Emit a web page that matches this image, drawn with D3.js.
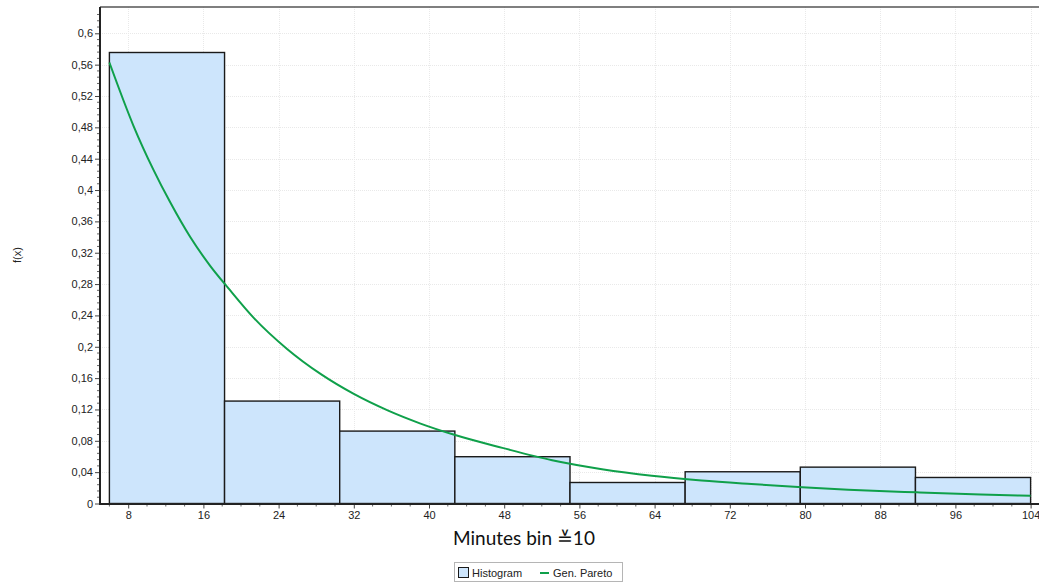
<!DOCTYPE html>
<html>
<head>
<meta charset="utf-8">
<script src="https://cdn.jsdelivr.net/npm/d3@7"></script>
<style>
  body { margin: 0; background: #fff; }
  svg { display: block; }
</style>
</head>
<body>
<svg id="chart" width="1039" height="583"></svg>
<script>
// Histogram bin edges (minutes) and relative frequencies per bin
const binEdges = [6, 18.25, 30.5, 42.75, 55, 67.25, 79.5, 91.75, 104];
const binHeights = [0.5755, 0.1307, 0.0924, 0.0597, 0.0268, 0.0405, 0.0464, 0.0332];

// Fitted Generalized Pareto density, sampled along x
const curveX = [6, 8.56, 10.69, 12.47, 14.6, 16.72, 18.67, 21.33, 24.9, 28.5, 32.0, 35.6, 39.1, 42.6,
                47.8, 53.1, 58.4, 63.7, 69.0, 74.3, 79.7, 84.6, 91.9, 98.7, 104];
const curveY = [0.5627, 0.482, 0.4257, 0.3843, 0.340, 0.3033, 0.2745, 0.2372, 0.1972, 0.1650, 0.1398, 0.1188,
                0.1020, 0.0880, 0.0710, 0.0552, 0.0438, 0.0354, 0.0294, 0.0249, 0.0208, 0.0176, 0.0142, 0.0114, 0.0099];

// Axis ticks
const xTicks = [8, 16, 24, 32, 40, 48, 56, 64, 72, 80, 88, 96, 104];
const yTicks = [0, 0.04, 0.08, 0.12, 0.16, 0.2, 0.24, 0.28, 0.32, 0.36, 0.4, 0.44, 0.48, 0.52, 0.56, 0.6];
const yTickLabels = ["0", "0,04", "0,08", "0,12", "0,16", "0,2", "0,24", "0,28", "0,32", "0,36", "0,4",
                     "0,44", "0,48", "0,52", "0,56", "0,6"];

const svg = d3.select("#chart");
const plotLeft = 100, plotRight = 1040, plotTop = 7, plotBottom = 503.5;

const x = d3.scaleLinear().domain([5, 105]).range([plotLeft, plotRight]);
const y = d3.scaleLinear().domain([0, 0.6 * (plotBottom - plotTop) / (plotBottom - 33.3)]).range([plotBottom, plotTop]);

const tickFont = "'Liberation Sans', Arial, sans-serif";

// Grid
const grid = svg.append("g").attr("stroke", "#e9e9e9").attr("stroke-width", 1).attr("stroke-dasharray", "1,1");
grid.selectAll("line.gx").data(xTicks).join("line").attr("class", "gx")
  .attr("x1", d => Math.round(x(d)) + 0.5).attr("x2", d => Math.round(x(d)) + 0.5)
  .attr("y1", plotTop).attr("y2", plotBottom);
grid.selectAll("line.gy").data(yTicks.slice(1)).join("line").attr("class", "gy")
  .attr("x1", plotLeft).attr("x2", plotRight)
  .attr("y1", d => Math.round(y(d)) + 0.5).attr("y2", d => Math.round(y(d)) + 0.5);

// Top frame line
svg.append("line").attr("x1", plotLeft).attr("x2", plotRight).attr("y1", plotTop).attr("y2", plotTop)
  .attr("stroke", "#555").attr("stroke-width", 1.5);

// Histogram bars
const bins = binHeights.map((h, i) => ({ x0: binEdges[i], x1: binEdges[i + 1], h }));
svg.append("g").selectAll("rect").data(bins).join("rect")
  .attr("x", d => x(d.x0)).attr("width", d => x(d.x1) - x(d.x0))
  .attr("y", d => y(d.h)).attr("height", d => y(0) - y(d.h))
  .attr("fill", "#cde5fc").attr("stroke", "#1a1a1a").attr("stroke-width", 1.4);

// Density curve
const line = d3.line().x(d => x(d[0])).y(d => y(d[1])).curve(d3.curveMonotoneX);
svg.append("path").datum(curveX.map((v, i) => [v, curveY[i]]))
  .attr("d", line).attr("fill", "none").attr("stroke", "#0fa04a").attr("stroke-width", 2);

// Y axis
const yAxis = d3.axisLeft(y).tickValues(yTicks).tickSize(5).tickPadding(2)
  .tickFormat((d, i) => yTickLabels[i]);
const gy = svg.append("g").attr("transform", `translate(${plotLeft},0)`).call(yAxis);
gy.select(".domain").remove();
gy.selectAll(".tick line").attr("stroke", "#444");
gy.selectAll(".tick text").attr("font-family", tickFont).attr("font-size", 11).attr("fill", "#222");
// minor y ticks
const yMinor = d3.range(0, 0.632, 0.008).filter(v => Math.abs(v / 0.04 - Math.round(v / 0.04)) > 1e-6);
svg.append("g").selectAll("line").data(yMinor).join("line")
  .attr("x1", plotLeft - 3).attr("x2", plotLeft).attr("y1", d => y(d)).attr("y2", d => y(d))
  .attr("stroke", "#666").attr("stroke-width", 1);
svg.append("line").attr("x1", plotLeft).attr("x2", plotLeft).attr("y1", plotTop).attr("y2", plotBottom + 1)
  .attr("stroke", "#222").attr("stroke-width", 2);

// X axis
const xAxis = d3.axisBottom(x).tickValues(xTicks).tickSize(5).tickPadding(3);
const gx = svg.append("g").attr("transform", `translate(0,${plotBottom})`).call(xAxis);
gx.select(".domain").remove();
gx.selectAll(".tick line").attr("stroke", "#444");
gx.selectAll(".tick text").attr("font-family", tickFont).attr("font-size", 11).attr("fill", "#222");
const xMinor = d3.range(6, 105, 2).filter(v => v % 8 !== 0);
svg.append("g").selectAll("line").data(xMinor).join("line")
  .attr("x1", d => x(d)).attr("x2", d => x(d)).attr("y1", plotBottom).attr("y2", plotBottom + 3)
  .attr("stroke", "#666").attr("stroke-width", 1);
svg.append("line").attr("x1", plotLeft - 1).attr("x2", plotRight).attr("y1", plotBottom + 0.5).attr("y2", plotBottom + 0.5)
  .attr("stroke", "#222").attr("stroke-width", 2);

// Axis titles
svg.append("text").attr("x", 524).attr("y", 545)
  .attr("text-anchor", "middle").attr("font-family", "Lato, 'Open Sans', sans-serif").attr("font-size", 19)
  .attr("fill", "#111").text("Minutes bin ≚10");
svg.append("text").attr("transform", "translate(21,255) rotate(-90)")
  .attr("text-anchor", "middle").attr("font-family", tickFont).attr("font-size", 11)
  .attr("fill", "#222").text("f(x)");

// Legend
const lg = svg.append("g");
lg.append("rect").attr("x", 454.5).attr("y", 562.5).attr("width", 168).attr("height", 19)
  .attr("fill", "#fff").attr("stroke", "#b5b5b5");
lg.append("rect").attr("x", 458.5).attr("y", 567.5).attr("width", 10).attr("height", 10)
  .attr("fill", "#cde5fc").attr("stroke", "#1a1a1a").attr("stroke-width", 1);
lg.append("text").attr("x", 472).attr("y", 577).attr("font-family", tickFont).attr("font-size", 11)
  .attr("fill", "#222").text("Histogram");
lg.append("line").attr("x1", 540).attr("x2", 549).attr("y1", 573).attr("y2", 573)
  .attr("stroke", "#0fa04a").attr("stroke-width", 2);
lg.append("text").attr("x", 553).attr("y", 577).attr("font-family", tickFont).attr("font-size", 11)
  .attr("fill", "#222").text("Gen. Pareto");
</script>
</body>
</html>
